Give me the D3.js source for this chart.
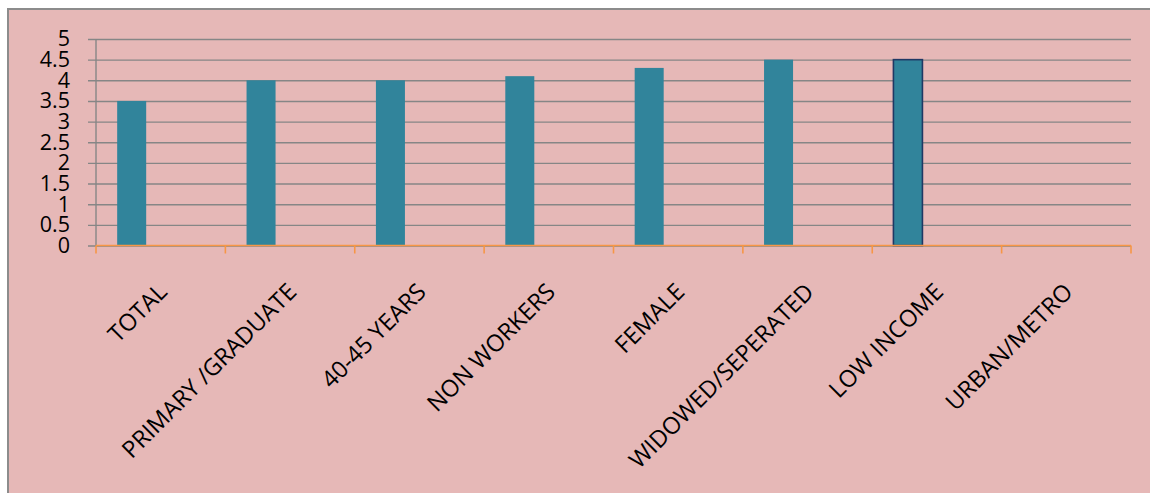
<!DOCTYPE html>
<html>
<head>
<meta charset="utf-8">
<script src="https://cdn.jsdelivr.net/npm/d3@7/dist/d3.min.js"></script>
<style>
  html, body { margin: 0; padding: 0; background: #ffffff; }
  svg { display: block; }
  text { font-family: "Open Sans", "Liberation Sans", sans-serif; fill: #000; }
</style>
</head>
<body>
<svg id="chart" width="1150" height="493"></svg>
<script>
// Categories and their scores
const categories = ["TOTAL", "PRIMARY /GRADUATE", "40-45 YEARS", "NON WORKERS",
                    "FEMALE", "WIDOWED/SEPERATED", "LOW INCOME", "URBAN/METRO"];
const seriesNames = ["Series1", "Series2", "Series3"];
const series1 = [3.5, 4.0, 4.0, 4.1, 4.3, 4.5, 4.5, null];
const yTicks = [0, 0.5, 1, 1.5, 2, 2.5, 3, 3.5, 4, 4.5, 5];
const highlighted = ["LOW INCOME"];

const svg = d3.select("#chart");

// Chart area background and frame
svg.append("rect")
  .attr("x", 8).attr("y", 9)
  .attr("width", 1160).attr("height", 500)
  .attr("fill", "#E6B8B7")
  .attr("stroke", "#8c8c8c")
  .attr("stroke-width", 2);

const plot = { left: 96, right: 1131, top: 39, bottom: 245.5 };

const x0 = d3.scaleBand()
  .domain(categories)
  .range([plot.left, plot.right])
  .paddingInner(0).paddingOuter(0);

const x1 = d3.scaleBand()
  .domain(seriesNames)
  .range([0, x0.bandwidth()])
  .paddingInner(0)
  .paddingOuter(0.73);

const y = d3.scaleLinear()
  .domain([0, 5])
  .range([plot.bottom, plot.top]);

// Horizontal gridlines with ticks on the value axis
const yAxis = d3.axisLeft(y)
  .tickValues(yTicks)
  .tickSize(-(plot.right - plot.left))
  .tickSizeOuter(0)
  .tickPadding(10)
  .tickFormat(d => String(d));

const yg = svg.append("g")
  .attr("transform", `translate(${plot.left},0)`)
  .call(yAxis);
yg.select(".domain").remove();
yg.selectAll(".tick line")
  .attr("x1", -8)
  .attr("stroke", "#868686")
  .attr("stroke-width", 1.4);
yg.selectAll(".tick text")
  .attr("x", -26)
  .attr("font-size", 21.5)
  .style("font-family", '"Open Sans", sans-serif');

// Value axis line
svg.append("line")
  .attr("x1", plot.left).attr("x2", plot.left)
  .attr("y1", plot.top).attr("y2", plot.bottom)
  .attr("stroke", "#868686")
  .attr("stroke-width", 1.4);

// Bars
const barData = categories.map((c, i) => ({ cat: c, value: series1[i] }))
  .filter(d => d.value != null);

svg.append("g")
  .selectAll("rect")
  .data(barData)
  .join("rect")
  .attr("x", d => x0(d.cat) + x1("Series1"))
  .attr("y", d => y(d.value))
  .attr("width", x1.bandwidth())
  .attr("height", d => y(0) - y(d.value))
  .attr("fill", "#31849B")
  .attr("stroke", d => highlighted.includes(d.cat) ? "#1F3864" : "none")
  .attr("stroke-width", 1.6);

// Category axis with boundary ticks
const boundaries = categories.map(c => x0(c)).concat([plot.right]);
const xg = svg.append("g");
xg.append("line")
  .attr("x1", plot.left).attr("x2", plot.right)
  .attr("y1", plot.bottom).attr("y2", plot.bottom)
  .attr("stroke", "#F79646")
  .attr("stroke-width", 1.6);
xg.selectAll("line.tick")
  .data(boundaries)
  .join("line")
  .attr("class", "tick")
  .attr("x1", d => d).attr("x2", d => d)
  .attr("y1", plot.bottom).attr("y2", plot.bottom + 8)
  .attr("stroke", "#F79646")
  .attr("stroke-width", 1.6);

// Rotated category labels
svg.append("g")
  .selectAll("text")
  .data(categories)
  .join("text")
  .attr("transform", d => `translate(${x0(d) + x0.bandwidth() / 2 + 2},${plot.bottom + 42}) rotate(-45)`)
  .attr("text-anchor", "end")
  .attr("dy", "0.35em")
  .attr("font-size", 23.5)
  .text(d => d);
</script>
</body>
</html>
